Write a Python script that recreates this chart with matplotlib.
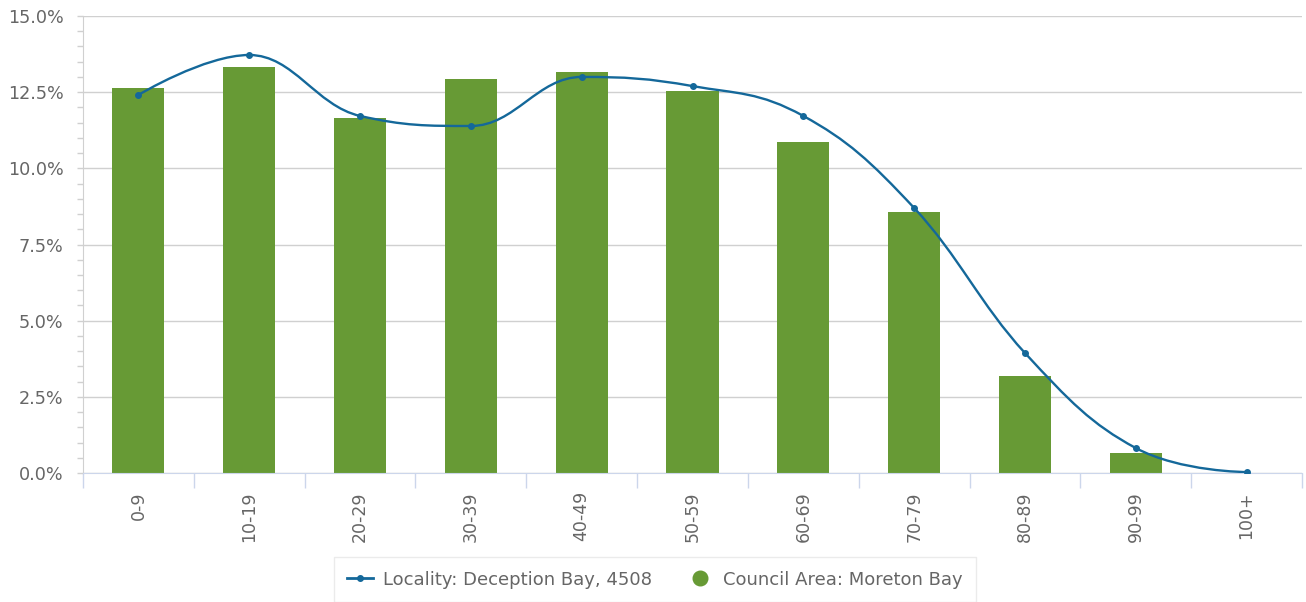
from matplotlib import pyplot as plt
from matplotlib.path import Path
from matplotlib.patches import PathPatch
from matplotlib.lines import Line2D
from matplotlib.ticker import FuncFormatter, MultipleLocator
import numpy as np

plt.rcParams['font.family'] = ['DejaVu Sans']

# age groups and shares (%)
ageGroups = ['0-9', '10-19', '20-29', '30-39', '40-49', '50-59',
             '60-69', '70-79', '80-89', '90-99', '100+']
councilArea = [12.64, 13.33, 11.65, 12.93, 13.16, 12.54, 10.86, 8.57, 3.18, 0.66, 0.0]
locality = [12.41, 13.72, 11.72, 11.39, 13.00, 12.70, 11.72, 8.70, 3.94, 0.82, 0.03]

barColor = '#679a35'
lineColor = '#14689a'
textColor = '#666666'
gridColor = '#d0d0d0'
axisColor = '#ccd6eb'


# highcharts style spline through the points
def splinePath(xs, ys, smoothing=1.5):
    n = len(xs)
    denom = smoothing + 1
    leftC = [(xs[0], ys[0])] * n
    rightC = [(xs[-1], ys[-1])] * n
    for i in range(1, n - 1):
        lastX, lastY = xs[i - 1], ys[i - 1]
        nextX, nextY = xs[i + 1], ys[i + 1]
        px, py = xs[i], ys[i]
        lcx = (smoothing * px + lastX) / denom
        lcy = (smoothing * py + lastY) / denom
        rcx = (smoothing * px + nextX) / denom
        rcy = (smoothing * py + nextY) / denom
        corr = (rcy - lcy) * (rcx - px) / (rcx - lcx) + py - rcy
        lcy += corr
        rcy += corr
        if lcy > lastY and lcy > py:
            lcy = max(lastY, py)
            rcy = 2 * py - lcy
        elif lcy < lastY and lcy < py:
            lcy = min(lastY, py)
            rcy = 2 * py - lcy
        if rcy > nextY and rcy > py:
            rcy = max(nextY, py)
            lcy = 2 * py - rcy
        elif rcy < nextY and rcy < py:
            rcy = min(nextY, py)
            lcy = 2 * py - rcy
        leftC[i] = (lcx, lcy)
        rightC[i] = (rcx, rcy)
    rightC[0] = (xs[0], ys[0])
    leftC[-1] = (xs[-1], ys[-1])
    verts = [(xs[0], ys[0])]
    codes = [Path.MOVETO]
    for i in range(1, n):
        verts += [rightC[i - 1], leftC[i], (xs[i], ys[i])]
        codes += [Path.CURVE4] * 3
    return Path(verts, codes)


fig = plt.figure(figsize=(13.06, 6.02), dpi=100)
ax = fig.add_axes([83 / 1306, 129 / 602, 1219 / 1306, 457 / 602])

x = np.arange(len(ageGroups))
ax.bar(x, councilArea, width=0.47, color=barColor, zorder=2)

ax.add_patch(PathPatch(splinePath(list(x), locality), facecolor='none',
                       edgecolor=lineColor, linewidth=1.7, zorder=3))
ax.plot(x, locality, linestyle='none', marker='o', markersize=4,
        color=lineColor, zorder=4)

ax.set_xlim(-0.5, len(ageGroups) - 0.5)
ax.set_ylim(0, 15)

ax.yaxis.set_major_locator(MultipleLocator(2.5))
ax.yaxis.set_minor_locator(MultipleLocator(0.5))
ax.yaxis.set_major_formatter(FuncFormatter(lambda v, p: '%.1f%%' % v))
ax.grid(axis='y', which='major', color=gridColor, linewidth=1, zorder=0)
ax.set_axisbelow(True)

ax.set_xticks(x)
ax.set_xticklabels(ageGroups, rotation=90)
ax.set_xticks(np.arange(-0.5, len(ageGroups)), minor=True)
ax.tick_params(axis='x', which='major', length=0, pad=13, labelsize=12.5,
               labelcolor=textColor)
ax.tick_params(axis='x', which='minor', length=11, width=1, color=axisColor)
ax.tick_params(axis='y', which='both', length=4, width=1, color=gridColor,
               labelsize=12.7, labelcolor=textColor, pad=10)

for side in ['top', 'right']:
    ax.spines[side].set_visible(False)
ax.spines['left'].set_color(gridColor)
ax.spines['bottom'].set_color(axisColor)

handles = [Line2D([], [], color=lineColor, linewidth=2, marker='o', markersize=4),
           Line2D([], [], color=barColor, linestyle='none', marker='o', markersize=10.5)]
labels = ['Locality: Deception Bay, 4508', 'Council Area: Moreton Bay']
leg = fig.legend(handles, labels, loc='upper center',
                 bbox_to_anchor=(655 / 1306, 1 - 557 / 602), ncol=2,
                 fontsize=13, labelcolor=textColor, frameon=True, fancybox=False,
                 edgecolor='#e6e6e6', handlelength=1.4, columnspacing=2.0,
                 borderpad=0.75, handletextpad=0.55, borderaxespad=0)
leg.get_frame().set_linewidth(1)

fig.savefig('out.png', dpi=100)
